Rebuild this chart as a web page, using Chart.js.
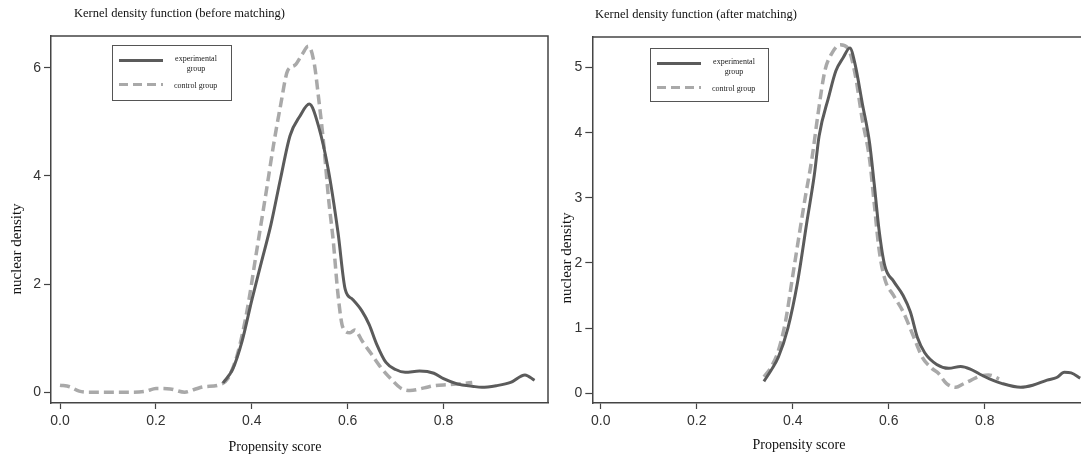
<!DOCTYPE html>
<html lang="en">

<head>
    <meta charset="UTF-8">
    <script src="https://cdn.jsdelivr.net/npm/chart.js"></script>
    <title>Kernel density</title>
    <style>
        html, body { margin: 0; padding: 0; background: #fff; overflow: hidden; }
        .wrap { position: relative; width: 1081px; height: 457px; }
        canvas { position: absolute; top: 0; }
        #chartBefore { left: 0; }
        #chartAfter { left: 550px; }
    </style>
</head>

<body>
    <div class="wrap">
        <canvas id="chartBefore" width="550" height="457"></canvas>
        <canvas id="chartAfter" width="531" height="457"></canvas>
    </div>

<script>
    // values
    const seriesLabels = ['experimental group', 'control group']
    const xTicks = [0, 0.2, 0.4, 0.6, 0.8]
    const beforeYTicks = [0, 2, 4, 6]
    const afterYTicks = [0, 1, 2, 3, 4, 5]

    const beforeExpX = [0.34, 0.36, 0.38, 0.40, 0.42, 0.44, 0.46, 0.48, 0.50, 0.52, 0.54, 0.56, 0.58, 0.595, 0.61, 0.63, 0.645, 0.66, 0.68, 0.70, 0.72, 0.75, 0.78, 0.80, 0.83, 0.86, 0.88, 0.91, 0.94, 0.97, 0.99]
    const beforeExpY = [0.17, 0.42, 0.95, 1.7, 2.4, 3.1, 3.95, 4.75, 5.1, 5.33, 4.9, 4.1, 2.95, 1.9, 1.72, 1.5, 1.25, 0.9, 0.55, 0.42, 0.37, 0.39, 0.35, 0.25, 0.15, 0.11, 0.09, 0.12, 0.18, 0.32, 0.22]

    const beforeCtrlX = [0.00, 0.02, 0.04, 0.06, 0.10, 0.15, 0.18, 0.20, 0.23, 0.26, 0.28, 0.30, 0.33, 0.35, 0.37, 0.39, 0.41, 0.43, 0.445, 0.46, 0.475, 0.49, 0.505, 0.518, 0.53, 0.54, 0.55, 0.56, 0.57, 0.58, 0.59, 0.605, 0.615, 0.63, 0.65, 0.67, 0.69, 0.71, 0.73, 0.76, 0.78, 0.81, 0.84, 0.86]
    const beforeCtrlY = [0.13, 0.10, 0.02, 0.0, 0.0, 0.0, 0.02, 0.07, 0.06, 0.0, 0.05, 0.1, 0.13, 0.25, 0.7, 1.5, 2.6, 3.7, 4.55, 5.3, 5.95, 6.05, 6.25, 6.4, 6.1, 5.4, 4.6, 3.6, 2.8, 1.8, 1.2, 1.1, 1.15, 0.95, 0.7, 0.45, 0.25, 0.08, 0.03, 0.08, 0.12, 0.14, 0.16, 0.18]

    const afterExpX = [0.34, 0.355, 0.37, 0.39, 0.41, 0.43, 0.445, 0.455, 0.475, 0.49, 0.505, 0.519, 0.53, 0.545, 0.56, 0.57, 0.58, 0.592, 0.61, 0.63, 0.645, 0.66, 0.675, 0.70, 0.725, 0.75, 0.77, 0.79, 0.81, 0.835, 0.875, 0.90, 0.93, 0.95, 0.966, 0.98, 0.999]
    const afterExpY = [0.18, 0.35, 0.55, 1.0, 1.7, 2.65, 3.35, 3.95, 4.55, 4.95, 5.15, 5.3, 5.05, 4.45, 3.85, 3.2, 2.5, 1.95, 1.72, 1.5, 1.25, 0.85, 0.62, 0.44, 0.38, 0.41, 0.37, 0.29, 0.22, 0.15, 0.09, 0.12, 0.2, 0.24, 0.32, 0.31, 0.23]

    const afterCtrlX = [0.34, 0.355, 0.37, 0.385, 0.40, 0.415, 0.426, 0.44, 0.453, 0.467, 0.48, 0.499, 0.515, 0.53, 0.545, 0.56, 0.57, 0.58, 0.592, 0.61, 0.63, 0.65, 0.67, 0.69, 0.704, 0.72, 0.74, 0.755, 0.772, 0.79, 0.808, 0.83]
    const afterCtrlY = [0.25, 0.4, 0.65, 1.1, 1.8, 2.5, 3.0, 3.6, 4.3, 4.95, 5.2, 5.35, 5.3, 4.9, 4.2, 3.6, 2.9, 2.2, 1.75, 1.5, 1.25, 0.9, 0.55, 0.38, 0.3, 0.15, 0.09, 0.14, 0.2, 0.26, 0.28, 0.22]

    const solidColor = '#5b5b5b'
    const dashColor = '#a9a9a9'
    const axisColor = '#444'
    const serif = '"Liberation Serif", "Times New Roman", serif'
    const sans = '"Liberation Sans", Arial, sans-serif'

    function pontos(xs, ys) {
        let out = []
        for (var i = 0; i < xs.length; i++) {
            out.push({ x: xs[i], y: ys[i] })
        }
        return out
    }

    // titles, axis names, legend and frame drawn on top
    const textos = {
        id: 'textos',
        afterDraw(chart, args, o) {
            const ctx = chart.ctx
            const area = chart.chartArea
            ctx.save()

            // frame top / right
            ctx.strokeStyle = axisColor
            ctx.lineWidth = 1.5
            ctx.beginPath()
            ctx.moveTo(area.left, area.top)
            ctx.lineTo(area.right, area.top)
            if (o.rightBorder) ctx.lineTo(area.right, area.bottom)
            ctx.stroke()

            ctx.fillStyle = '#111'
            ctx.textBaseline = 'middle'

            ctx.font = '12.5px ' + serif
            ctx.textAlign = 'left'
            ctx.fillText(o.title, o.titleX, o.titleY)

            ctx.font = '14px ' + serif
            ctx.textAlign = 'center'
            ctx.fillText('Propensity score', o.xTitleX, o.xTitleY)

            ctx.save()
            ctx.translate(o.yTitleX, o.yTitleY)
            ctx.rotate(-Math.PI / 2)
            ctx.font = '15px ' + serif
            ctx.fillText('nuclear density', 0, 0)
            ctx.restore()

            // legend
            const lg = o.legend
            ctx.fillStyle = '#fff'
            ctx.fillRect(lg.x, lg.y, lg.w, lg.h)
            ctx.strokeStyle = '#555'
            ctx.lineWidth = 1
            ctx.strokeRect(lg.x + 0.5, lg.y + 0.5, lg.w, lg.h)

            const ds = chart.data.datasets
            ctx.lineWidth = 3
            ctx.strokeStyle = ds[0].borderColor
            ctx.setLineDash([])
            ctx.beginPath()
            ctx.moveTo(lg.x + 7, lg.y + 15.5)
            ctx.lineTo(lg.x + 51, lg.y + 15.5)
            ctx.stroke()

            ctx.strokeStyle = ds[1].borderColor
            ctx.setLineDash([9, 5])
            ctx.beginPath()
            ctx.moveTo(lg.x + 7, lg.y + 39.5)
            ctx.lineTo(lg.x + 51, lg.y + 39.5)
            ctx.stroke()
            ctx.setLineDash([])

            ctx.fillStyle = '#222'
            ctx.font = '8px ' + serif
            ctx.textAlign = 'center'
            const palavras = ds[0].label.split(' ')
            ctx.fillText(palavras[0], lg.x + 84, lg.y + 13.5)
            ctx.fillText(palavras[1], lg.x + 84, lg.y + 24)
            ctx.textAlign = 'left'
            ctx.fillText(ds[1].label, lg.x + 62, lg.y + 40.5)

            ctx.restore()
        }
    }

    function plotarGrafico(id, cfg) {
        const ctx = document.getElementById(id)
        new Chart(ctx, {
            type: 'line',
            data: {
                datasets: [{
                    label: seriesLabels[0],
                    data: pontos(cfg.expX, cfg.expY),
                    borderColor: solidColor,
                    borderWidth: 3,
                    pointRadius: 0,
                    cubicInterpolationMode: 'monotone',
                    fill: false
                }, {
                    label: seriesLabels[1],
                    data: pontos(cfg.ctrlX, cfg.ctrlY),
                    borderColor: dashColor,
                    borderWidth: 3.5,
                    borderDash: [10, 5],
                    pointRadius: 0,
                    cubicInterpolationMode: 'monotone',
                    fill: false
                }]
            },
            options: {
                responsive: false,
                animation: false,
                layout: { padding: { top: cfg.top, right: cfg.right, left: 0, bottom: 0 } },
                plugins: {
                    legend: { display: false },
                    tooltip: { enabled: false },
                    textos: cfg.textos
                },
                scales: {
                    x: {
                        type: 'linear',
                        min: cfg.xMin,
                        max: cfg.xMax,
                        afterBuildTicks: s => { s.ticks = xTicks.map(v => ({ value: v })) },
                        afterFit: s => { s.height = 54 },
                        grid: { drawOnChartArea: false, drawTicks: true, tickLength: 6, tickColor: axisColor, tickWidth: 1.2 },
                        border: { color: axisColor, width: 1.5 },
                        ticks: {
                            autoSkip: false, maxRotation: 0, padding: 4,
                            color: '#333', font: { family: sans, size: 14 },
                            callback: v => Number(v).toFixed(1)
                        }
                    },
                    y: {
                        min: cfg.yMin,
                        max: cfg.yMax,
                        afterBuildTicks: s => { s.ticks = cfg.yTicks.map(v => ({ value: v })) },
                        afterFit: s => { s.width = cfg.yWidth },
                        grid: { drawOnChartArea: false, drawTicks: true, tickLength: 7, tickColor: axisColor, tickWidth: 1.2 },
                        border: { color: axisColor, width: 1.5 },
                        ticks: {
                            autoSkip: false, padding: 3,
                            color: '#333', font: { family: sans, size: 14 },
                            callback: v => String(v)
                        }
                    }
                }
            },
            plugins: [textos]
        })
    }

    plotarGrafico('chartBefore', {
        expX: beforeExpX, expY: beforeExpY, ctrlX: beforeCtrlX, ctrlY: beforeCtrlY,
        yTicks: beforeYTicks, xMin: -0.0188, xMax: 1.018, yMin: -0.2, yMax: 6.59,
        top: 36, right: 2, yWidth: 51,
        textos: {
            title: 'Kernel density function (before matching)', titleX: 74, titleY: 14,
            xTitleX: 275, xTitleY: 447, yTitleX: 17, yTitleY: 249,
            rightBorder: true,
            legend: { x: 112, y: 45, w: 119, h: 55 }
        }
    })

    plotarGrafico('chartAfter', {
        expX: afterExpX, expY: afterExpY, ctrlX: afterCtrlX, ctrlY: afterCtrlY,
        yTicks: afterYTicks, xMin: -0.0175, xMax: 1.0006, yMin: -0.152, yMax: 5.47,
        top: 37, right: 0, yWidth: 42.3,
        textos: {
            title: 'Kernel density function (after matching)', titleX: 45, titleY: 15,
            xTitleX: 249, xTitleY: 445, yTitleX: 17, yTitleY: 258,
            rightBorder: false,
            legend: { x: 100, y: 48, w: 118, h: 53 }
        }
    })
</script>
</body>

</html>
